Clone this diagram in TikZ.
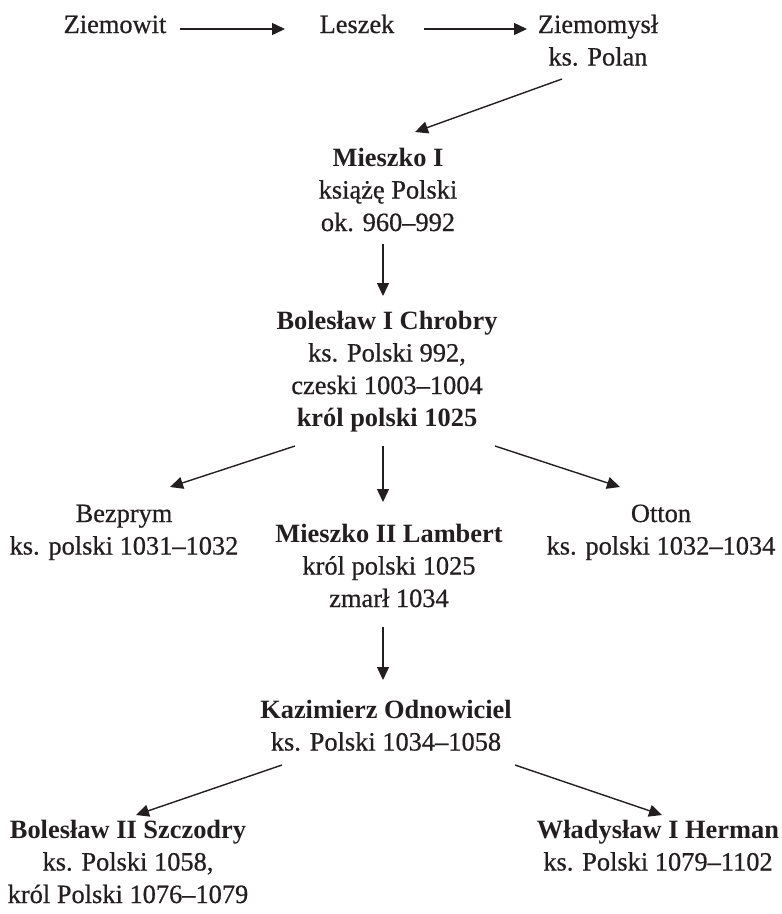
\documentclass[tikz,border=0pt]{standalone}
\usepackage{fontspec}
\setmainfont{Liberation Serif}[UprightFeatures={FakeBold=0.6}]
\usetikzlibrary{arrows.meta}
\definecolor{ink}{HTML}{231F20}
\newcommand\stackc[1]{\begin{tabular}[t]{@{}c@{}}#1\end{tabular}}
\begin{document}
\begin{tikzpicture}[x=1pt,y=-1pt,
  person/.style={anchor=base,inner sep=0pt,text=ink,font=\fontsize{26.4}{32.5}\selectfont},
  arr/.style={draw=ink,line width=1.4pt,-{Triangle[length=13pt,width=12pt]}}]
\useasboundingbox (0,0) rectangle (782,914);
\node[person] (ziem)  at (115,33) {Ziemowit};
\node[person] (lesz)  at (357,33) {Leszek};
\node[person] (ziemo) at (598,33) {\stackc{Ziemomysł\\ks. Polan}};
\node[person] (m1)    at (388,166) {\stackc{\textbf{Mieszko I}\\książę Polski\\ok. 960–992}};
\node[person] (b1)    at (387,329) {\stackc{\textbf{Bolesław I Chrobry}\\ks. Polski 992,\\czeski 1003–1004\\\textbf{król polski 1025}}};
\node[person] (bez)   at (124,522) {\stackc{Bezprym\\ks. polski 1031–1032}};
\node[person] (m2)    at (389,542) {\stackc{\textbf{Mieszko II Lambert}\\król polski 1025\\zmarł 1034}};
\node[person] (otto)  at (661,522) {\stackc{Otton\\ks. polski 1032–1034}};
\node[person] (kaz)   at (386,718) {\stackc{\textbf{Kazimierz Odnowiciel}\\ks. Polski 1034–1058}};
\node[person] (b2)    at (128,838) {\stackc{\textbf{Bolesław II Szczodry}\\ks. Polski 1058,\\król Polski 1076–1079}};
\node[person] (wl)    at (658,838) {\stackc{\textbf{Władysław I Herman}\\ks. Polski 1079–1102}};
\draw[arr] ([shift={(65,-4)}]ziem.base) -- ([shift={(-72,-4)}]lesz.base);
\draw[arr] ([shift={(67,-4)}]lesz.base) -- ([shift={(-71,-4)}]ziemo.base);
\draw[arr] ([shift={(-36,46)}]ziemo.base) -- ([shift={(27,-34)}]m1.base);
\draw[arr] ([shift={(-5,78)}]m1.base) -- ([shift={(-4,-33)}]b1.base);
\draw[arr] ([shift={(-92,117)}]b1.base) -- ([shift={(46,-35)}]bez.base);
\draw[arr] ([shift={(-4,117)}]b1.base) -- ([shift={(-6,-40)}]m2.base);
\draw[arr] ([shift={(108,117)}]b1.base) -- ([shift={(-41,-35)}]otto.base);
\draw[arr] ([shift={(-6,85)}]m2.base) -- ([shift={(-3,-38)}]kaz.base);
\draw[arr] ([shift={(-104,47)}]kaz.base) -- ([shift={(8,-23)}]b2.base);
\draw[arr] ([shift={(129,47)}]kaz.base) -- ([shift={(4,-23)}]wl.base);
\end{tikzpicture}
\end{document}
